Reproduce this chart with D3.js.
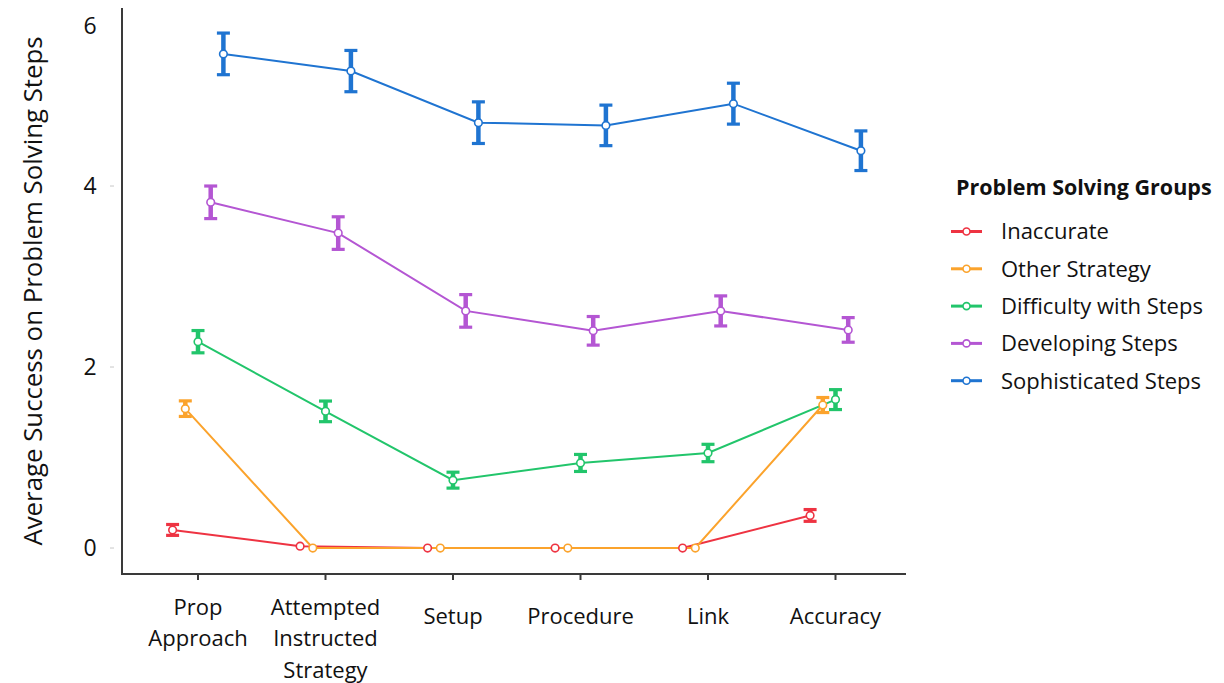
<!DOCTYPE html>
<html>
<head>
<meta charset="utf-8">
<script src="https://cdn.jsdelivr.net/npm/d3@7"></script>
<style>
  html, body { margin: 0; padding: 0; background: #fff; }
  svg { display: block; font-family: "Open Sans", Lato, sans-serif; }
</style>
</head>
<body>
<svg id="chart" width="1224" height="683"></svg>
<script>
// Problem-solving components along the x axis (label lines per category)
const categories = ["Prop Approach", "Attempted Instructed Strategy", "Setup", "Procedure", "Link", "Accuracy"];
const categoryLines = [["Prop", "Approach"], ["Attempted", "Instructed", "Strategy"], ["Setup"], ["Procedure"], ["Link"], ["Accuracy"]];

// Group names, in legend order
const groups = ["Inaccurate", "Other Strategy", "Difficulty with Steps", "Developing Steps", "Sophisticated Steps"];
const groupColors = ["#ee3342", "#fba32c", "#22c56b", "#b456d3", "#1f74d1"];

// Mean success per group, one value per category
const inaccurate    = [0.20, 0.02, 0.00, 0.00, 0.00, 0.36];
const otherStrategy = [1.54, 0.00, 0.00, 0.00, 0.00, 1.58];
const difficulty    = [2.28, 1.51, 0.75, 0.94, 1.05, 1.64];
const developing    = [3.82, 3.48, 2.62, 2.40, 2.62, 2.41];
const sophisticated = [5.46, 5.27, 4.70, 4.67, 4.91, 4.39];

// Standard-error half widths for the error bars
const inaccurateErr    = [0.060, 0.000, 0.000, 0.000, 0.000, 0.065];
const otherStrategyErr = [0.086, 0.000, 0.000, 0.000, 0.000, 0.083];
const difficultyErr    = [0.123, 0.114, 0.088, 0.094, 0.096, 0.110];
const developingErr    = [0.180, 0.180, 0.180, 0.158, 0.166, 0.136];
const sophisticatedErr = [0.230, 0.228, 0.230, 0.224, 0.226, 0.219];

const yTicks = [0, 2, 4, 6];

const means = [inaccurate, otherStrategy, difficulty, developing, sophisticated];
const errs = [inaccurateErr, otherStrategyErr, difficultyErr, developingErr, sophisticatedErr];

const series = groups.map((g, i) => ({
  name: g,
  color: groupColors[i],
  index: i,
  values: categories.map((c, j) => ({ cat: c, mean: means[i][j], err: errs[i][j] }))
}));

const svg = d3.select("#chart");

const axisLeftX = 122, axisBottomY = 574, axisTopY = 8, axisRightX = 906;

const x = d3.scalePoint().domain(categories).range([198, 835.5]);
const dodge = d3.scalePoint().domain(groups).range([-25.4, 25.4]);
const y = d3.scaleLinear().domain([-0.287, 5.967]).range([axisBottomY, axisTopY]);

const px = (s, d) => x(d.cat) + dodge(s.name);

// Axes frame
svg.append("line")
  .attr("x1", axisLeftX).attr("x2", axisLeftX)
  .attr("y1", axisTopY).attr("y2", axisBottomY + 1)
  .attr("stroke", "#3a3a3a").attr("stroke-width", 2);
svg.append("line")
  .attr("x1", axisLeftX - 1).attr("x2", axisRightX)
  .attr("y1", axisBottomY).attr("y2", axisBottomY)
  .attr("stroke", "#3a3a3a").attr("stroke-width", 2);

// Y ticks and labels
const yAxis = svg.append("g");
yAxis.selectAll("line.tick").data(yTicks.filter(t => y(t) >= axisTopY)).join("line")
  .attr("class", "tick")
  .attr("x1", 110).attr("x2", 114)
  .attr("y1", d => y(d)).attr("y2", d => y(d))
  .attr("stroke", "#c8c8c8").attr("stroke-width", 1);
yAxis.selectAll("text").data(yTicks).join("text")
  .attr("x", 90)
  .attr("y", d => Math.max(y(d), 26))
  .attr("dy", "0.36em")
  .attr("text-anchor", "middle")
  .attr("font-size", 23)
  .attr("fill", "#111")
  .text(d => d);

// X ticks and category labels
const xAxis = svg.append("g");
xAxis.selectAll("line").data(categories).join("line")
  .attr("x1", d => x(d)).attr("x2", d => x(d))
  .attr("y1", axisBottomY).attr("y2", axisBottomY + 6)
  .attr("stroke", "#3a3a3a").attr("stroke-width", 2);
xAxis.selectAll("text").data(categories).join("text")
  .attr("text-anchor", "middle")
  .attr("font-size", 22)
  .attr("fill", "#111")
  .each(function (d, i) {
    const lines = categoryLines[i];
    const top = lines.length > 1 ? 607 : 616;
    d3.select(this).selectAll("tspan").data(lines).join("tspan")
      .attr("x", x(d))
      .attr("y", (l, k) => top + k * 31.5)
      .attr("dy", "0.36em")
      .text(l => l);
  });

// Y axis title
svg.append("text")
  .attr("transform", `translate(33, ${(axisTopY + axisBottomY) / 2}) rotate(-90)`)
  .attr("text-anchor", "middle")
  .attr("dy", "0.36em")
  .attr("font-size", 25.8)
  .attr("fill", "#111")
  .text("Average Success on Problem Solving Steps");

// Lines
const line = d3.line();
const plot = svg.append("g");
plot.selectAll("path.series").data(series).join("path")
  .attr("class", "series")
  .attr("fill", "none")
  .attr("stroke", s => s.color)
  .attr("stroke-width", 2)
  .attr("d", s => line(s.values.map(d => [px(s, d), y(d.mean)])));

// Error bars
series.forEach(s => {
  const g = plot.append("g").attr("stroke", s.color).attr("fill", "none");
  const withErr = s.values.filter(d => d.err > 0);
  g.selectAll("line.stem").data(withErr).join("line")
    .attr("x1", d => px(s, d)).attr("x2", d => px(s, d))
    .attr("y1", d => y(d.mean + d.err)).attr("y2", d => y(d.mean - d.err))
    .attr("stroke-width", 4.5);
  g.selectAll("line.capTop").data(withErr).join("line")
    .attr("class", "capTop")
    .attr("x1", d => px(s, d) - 6.5).attr("x2", d => px(s, d) + 6.5)
    .attr("y1", d => y(d.mean + d.err)).attr("y2", d => y(d.mean + d.err))
    .attr("stroke-width", 3.2);
  g.selectAll("line.capBot").data(withErr).join("line")
    .attr("class", "capBot")
    .attr("x1", d => px(s, d) - 6.5).attr("x2", d => px(s, d) + 6.5)
    .attr("y1", d => y(d.mean - d.err)).attr("y2", d => y(d.mean - d.err))
    .attr("stroke-width", 3.2);
});

// Point markers
series.forEach(s => {
  plot.append("g").selectAll("circle").data(s.values).join("circle")
    .attr("cx", d => px(s, d))
    .attr("cy", d => y(d.mean))
    .attr("r", 3.8)
    .attr("fill", "#fff")
    .attr("stroke", s.color)
    .attr("stroke-width", 1.6);
});

// Legend
const legend = svg.append("g");
legend.append("text")
  .attr("x", 956).attr("y", 187).attr("dy", "0.36em")
  .attr("font-size", 21.5).attr("font-weight", "bold").attr("fill", "#111")
  .text("Problem Solving Groups");
const items = legend.selectAll("g.item").data(series).join("g")
  .attr("class", "item")
  .attr("transform", (s, i) => `translate(0, ${231.5 + i * 37.3})`);
items.append("line")
  .attr("x1", 951).attr("x2", 982).attr("y1", 0).attr("y2", 0)
  .attr("stroke", s => s.color).attr("stroke-width", 3);
items.append("circle")
  .attr("cx", 966.5).attr("cy", 0).attr("r", 3.5)
  .attr("fill", "#fff").attr("stroke", s => s.color).attr("stroke-width", 1.6);
items.append("text")
  .attr("x", 1001).attr("y", 0).attr("dy", "0.36em")
  .attr("font-size", 22).attr("fill", "#111")
  .text(s => s.name);
</script>
</body>
</html>
